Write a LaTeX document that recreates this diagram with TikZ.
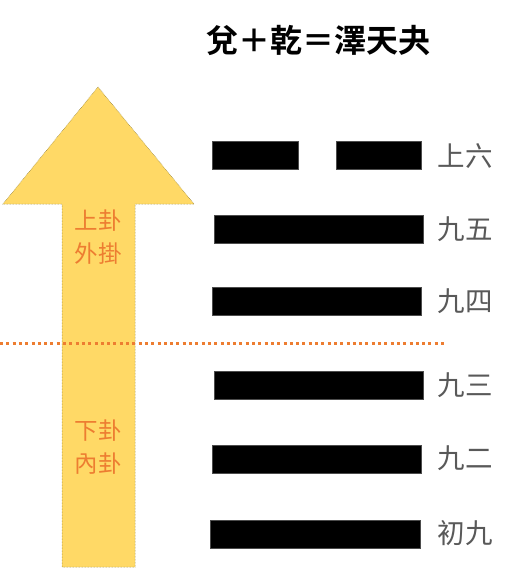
\documentclass[tikz,border=0pt]{standalone}
\usepackage{fontspec}
\newfontfamily\cjk{Noto Sans CJK TC}
\newfontfamily\cjkb{Noto Sans CJK TC Bold}
\definecolor{arrowfill}{HTML}{FFD966}
\definecolor{arrowedge}{HTML}{7F6F2A}
\definecolor{orng}{HTML}{ED7D31}
\definecolor{lblgray}{HTML}{595959}
\begin{document}
\begin{tikzpicture}[x=1pt,y=-1pt,
  bar/.style={fill=black,draw=black!70,line width=0.6pt,inner sep=0pt,minimum height=28pt,anchor=north west},
  yao/.style={font=\cjk\fontsize{27.5}{27.5}\selectfont,text=lblgray,inner sep=0pt},
  gua/.style={font=\cjk\fontsize{23.5}{33}\selectfont,text=orng,align=center,inner sep=0pt},
  ttl/.style={font=\cjkb\fontsize{32}{32}\selectfont,inner sep=0pt}]
\useasboundingbox (0,0) rectangle (508,577);
% arrow
\draw[fill=arrowfill,draw=arrowedge,line width=0.5pt,densely dotted]
  (98,87) -- (194,204) -- (135,204) -- (135,567) -- (62,567) -- (62,204) -- (3,204) -- cycle;
\node[gua] (upper) at (98,237) {上卦\\外掛};
\node[gua] (lower) at (98,447) {下卦\\內卦};
% title
\node[ttl] (title) at (318,41) {兌＋乾＝澤天夬};
% bars
\node[bar,minimum width=86pt] (b6l) at (212,141) {};
\node[bar,minimum width=85pt] (b6r) at (336,141) {};
\node[bar,minimum width=209pt] (b5) at (214,215) {};
\node[bar,minimum width=209pt] (b4) at (212,287) {};
\node[bar,minimum width=209pt] (b3) at (214,371) {};
\node[bar,minimum width=209pt] (b2) at (212,445) {};
\node[bar,minimum width=210pt] (b1) at (210,520) {};
% labels
\node[yao] (l6) at (465,156) {上六};
\node[yao] (l5) at (465,229) {九五};
\node[yao] (l4) at (465,301) {九四};
\node[yao] (l3) at (465,385) {九三};
\node[yao] (l2) at (465,458) {九二};
\node[yao] (l1) at (465,533) {初九};
% divider
\coordinate (dl) at (0,343);
\coordinate (dr) at (445,343);
\draw[orng,line width=3pt,dash pattern=on 3pt off 3.3pt] (dl) -- (dr);
\end{tikzpicture}
\end{document}
